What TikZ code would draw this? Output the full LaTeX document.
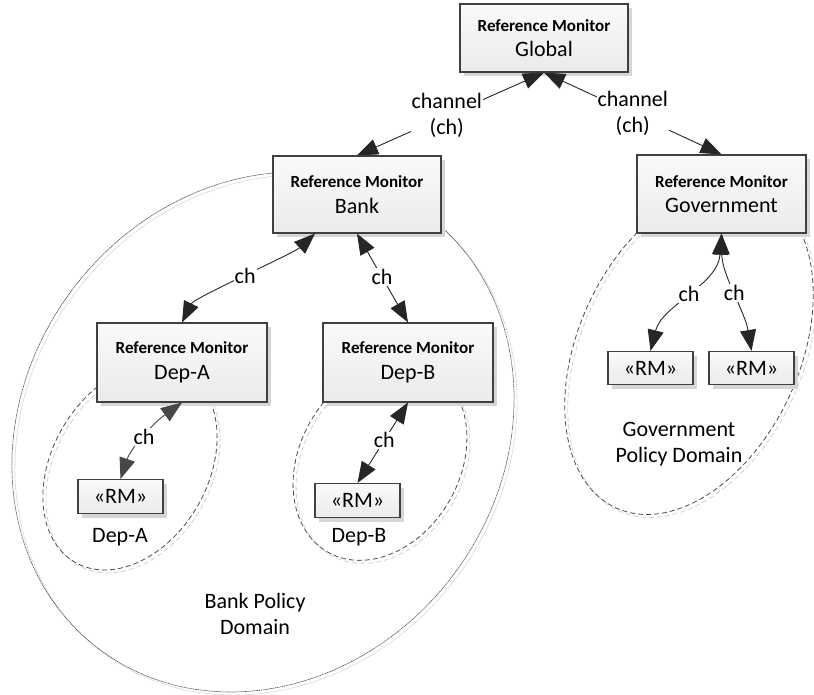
\documentclass[tikz,border=0pt]{standalone}
\usepackage{fontspec}
\setmainfont{Carlito}
\usetikzlibrary{arrows.meta,shadows}
\newcommand{\rmhead}{\fontsize{17}{25.5}\selectfont\bfseries Reference Monitor}
\newcommand{\rmname}[1]{\fontsize{22}{25.5}\selectfont\mdseries #1}
\begin{document}
\begin{tikzpicture}[x=1pt,y=-1pt,
  rmbox/.style={draw=black!75, line width=1.1pt, top color=black!2, bottom color=black!8,
    drop shadow={shadow xshift=4pt,shadow yshift=-4pt,fill=black!16,opacity=1},
    inner sep=0pt, align=center, font=\fontsize{22}{25.5}\selectfont},
  conn/.style={line width=0.9pt, draw=black!85,
    {Triangle[length=21pt,width=16pt]}-{Triangle[length=21pt,width=16pt]}},
  grayconn/.style={conn, draw=black!72},
  lab/.style={fill=white, inner sep=1pt, align=center, font=\fontsize{22}{26}\selectfont},
  txt/.style={inner sep=0pt, align=center, font=\fontsize{22}{26}\selectfont},
  domline/.style={draw=black!70, line width=0.8pt, dash pattern=on 5pt off 3pt},
  domshadow/.style={draw=black!18, line width=0.8pt, dash pattern=on 5pt off 3pt},
  bankline/.style={draw=black!70, line width=0.6pt, dash pattern=on 1.2pt off 0.6pt},
  bankshadow/.style={draw=black!15, line width=0.6pt}
]
\useasboundingbox (0,0) rectangle (814,695);

% policy domains
\draw[bankshadow, rotate around={52.6:(266,435)}] (266,435) ellipse [x radius=272, y radius=238];
\draw[bankline, rotate around={52.6:(263,432)}] (263,432) ellipse [x radius=272, y radius=238];
\draw[domshadow, rotate around={60:(133,470)}] (133,470) ellipse [x radius=110, y radius=78];
\draw[domline, rotate around={60:(130,467)}] (130,467) ellipse [x radius=110, y radius=78];
\draw[domshadow, rotate around={60:(383,464)}] (383,464) ellipse [x radius=105, y radius=80];
\draw[domline, rotate around={60:(380,461)}] (380,461) ellipse [x radius=105, y radius=80];
\draw[domshadow, rotate around={65:(692,353)}] (692,353) ellipse [x radius=174, y radius=110.5];
\draw[domline, rotate around={65:(689,350)}] (689,350) ellipse [x radius=174, y radius=110.5];

% reference monitors
\node[rmbox, minimum width=168pt, minimum height=68pt] (global) at (544,38)
  {\rmhead\\\rmname{Global}};
\node[rmbox, minimum width=168pt, minimum height=77pt] (bank) at (357,194.5)
  {\rmhead\\\rmname{Bank}};
\node[rmbox, minimum width=169pt, minimum height=78pt] (gov) at (721.5,194)
  {\rmhead\\\rmname{Government}};
\node[rmbox, minimum width=170pt, minimum height=79pt] (depA) at (182,362.5)
  {\rmhead\\\rmname{Dep-A}};
\node[rmbox, minimum width=170pt, minimum height=79pt] (depB) at (408,362.5)
  {\rmhead\\\rmname{Dep-B}};
\node[rmbox, minimum width=85pt, minimum height=34pt] (rmA) at (120.5,496.5) {«RM»};
\node[rmbox, minimum width=85pt, minimum height=34pt] (rmB) at (357.5,500.5) {«RM»};
\node[rmbox, minimum width=85pt, minimum height=33pt] (rmG1) at (650.5,368) {«RM»};
\node[rmbox, minimum width=85pt, minimum height=33pt] (rmG2) at (751.5,368) {«RM»};

% channels
\draw[conn] (global.south) -- node[lab,pos=0.52] {channel\\(ch)} (bank.north);
\draw[conn] (global.south) -- node[lab,pos=0.5] {channel\\(ch)} (gov.north);
\draw[conn] ([xshift=-42pt]bank.south) .. controls (294,253) and (194,298) .. node[lab,pos=0.5] {ch} (depA.north);
\draw[conn] (bank.south) -- node[lab,pos=0.49] {ch} (depB.north);
\draw[grayconn] (depA.south) .. controls (152,424) and (131,448) .. node[lab,pos=0.5] {ch} (rmA.north);
\draw[conn] (depB.south) -- node[lab,pos=0.47] {ch} (rmB.north);
\draw[conn] (gov.south) .. controls (718,285) and (662,305) .. node[lab,pos=0.5] {ch} (rmG1.north);
\draw[conn] (gov.south) .. controls (722,275) and (745,312) .. node[lab,pos=0.5] {ch} (rmG2.north);

% domain labels
\node[txt] (lblA) at (120,537) {Dep-A};
\node[txt] (lblB) at (359,537) {Dep-B};
\node[txt] (lblBank) at (255,614) {Bank Policy\\Domain};
\node[txt] (lblGov) at (679,444) {Government\\Policy Domain};
\end{tikzpicture}
\end{document}
